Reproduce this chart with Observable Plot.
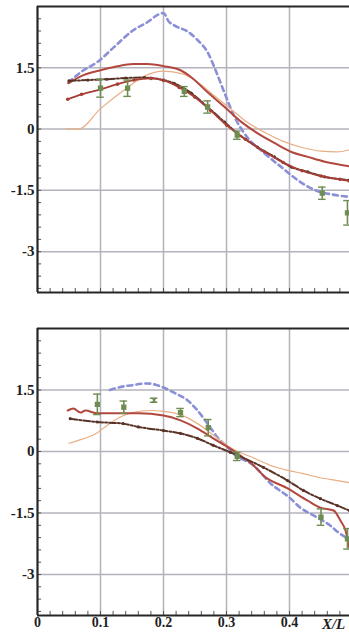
<!DOCTYPE html>
<html>
<head>
<meta charset="utf-8">
<script src="https://cdn.jsdelivr.net/npm/d3@7"></script>
<script src="https://cdn.jsdelivr.net/npm/@observablehq/plot@0.6"></script>
<style>
  html, body { margin: 0; padding: 0; background: #fff; }
  #chart svg { display: block; }
</style>
</head>
<body>
<div id="chart"></div>
<script>
// Axis ticks and labels
const xTicks = [0, 0.1, 0.2, 0.3, 0.4];
const xTickLabels = ["0", "0.1", "0.2", "0.3", "0.4"];
const xGrid = [0.1, 0.2, 0.3, 0.4];
const yTicks = [1.5, 0, -1.5, -3];
const yTickLabels = ["1.5", "0", "-1.5", "-3"];
const xAxisTitle = "X/L";

// Upper panel: [X/L, value]
const topDashed = [[0.049,1.14],[0.073,1.44],[0.095,1.64],[0.121,2.0],[0.152,2.42],[0.175,2.62],[0.19,2.79],[0.2,2.84],[0.208,2.64],[0.217,2.54],[0.24,2.37],[0.254,2.18],[0.27,1.88],[0.284,1.39],[0.297,0.88],[0.313,0.29],[0.333,-0.2],[0.36,-0.59],[0.387,-0.93],[0.413,-1.25],[0.44,-1.49],[0.471,-1.61],[0.495,-1.66]];
const topRed = [[0.049,1.12],[0.073,1.32],[0.1,1.44],[0.125,1.53],[0.152,1.59],[0.175,1.59],[0.2,1.54],[0.227,1.44],[0.244,1.27],[0.27,0.9],[0.297,0.54],[0.324,0.17],[0.349,-0.1],[0.376,-0.34],[0.403,-0.56],[0.429,-0.68],[0.456,-0.8],[0.495,-0.91]];
const topOrange = [[0.045,0],[0.065,0],[0.1,0.5],[0.143,1.02],[0.17,1.3],[0.2,1.42],[0.23,1.35],[0.254,1.15],[0.28,0.82],[0.306,0.5],[0.33,0.2],[0.36,-0.08],[0.39,-0.3],[0.42,-0.45],[0.45,-0.54],[0.475,-0.56],[0.495,-0.51]];
const topDashDot = [[0.05,1.18],[0.08,1.2],[0.11,1.22],[0.14,1.25],[0.17,1.26],[0.2,1.2],[0.217,1.12],[0.244,0.88],[0.27,0.54],[0.297,0.17],[0.317,-0.1],[0.349,-0.44],[0.376,-0.68],[0.403,-0.93],[0.429,-1.05],[0.456,-1.17],[0.495,-1.25]];
const topDotted = [[0.048,0.73],[0.07,0.85],[0.1,0.97],[0.127,1.1],[0.153,1.2],[0.18,1.24],[0.2,1.19],[0.225,1.02],[0.25,0.78],[0.275,0.45],[0.3,0.1],[0.33,-0.25],[0.36,-0.55],[0.39,-0.82],[0.42,-1.02],[0.45,-1.15],[0.48,-1.23],[0.495,-1.27]];
// Measured points: [X/L, value, error, symbol]
const topMeasured = [[0.1,1.0,0.22,"square"],[0.143,1.0,0.2,"square"],[0.233,0.92,0.12,"square"],[0.27,0.54,0.15,"square"],[0.317,-0.15,0.1,"square"],[0.452,-1.57,0.15,"square"],[0.492,-2.05,0.3,"square"]];

// Lower panel: [X/L, value]
const botDashed = [[0.115,1.5],[0.137,1.59],[0.147,1.61],[0.174,1.66],[0.2,1.56],[0.216,1.44],[0.238,1.25],[0.254,1.0],[0.27,0.68],[0.286,0.34],[0.302,0.1],[0.311,-0.05],[0.343,-0.34],[0.37,-0.78],[0.402,-1.15],[0.417,-1.37],[0.438,-1.56],[0.465,-1.81],[0.478,-1.98],[0.495,-2.15]];
const botRed = [[0.048,1.0],[0.057,1.05],[0.068,0.95],[0.076,1.0],[0.095,0.93],[0.136,0.93],[0.16,0.93],[0.2,0.88],[0.227,0.76],[0.254,0.56],[0.279,0.32],[0.306,0.07],[0.322,-0.1],[0.343,-0.34],[0.359,-0.59],[0.397,-0.9],[0.429,-1.2],[0.449,-1.37],[0.47,-1.44],[0.481,-1.69],[0.489,-1.93],[0.495,-2.35]];
const botOrange = [[0.05,0.2],[0.065,0.27],[0.095,0.46],[0.11,0.63],[0.13,0.83],[0.15,0.95],[0.18,1.0],[0.2,0.98],[0.23,0.88],[0.254,0.68],[0.28,0.39],[0.306,0.1],[0.345,-0.17],[0.37,-0.34],[0.397,-0.46],[0.422,-0.54],[0.449,-0.64],[0.476,-0.71],[0.495,-0.76]];
const botDashDot = [[0.052,0.8],[0.095,0.72],[0.136,0.68],[0.16,0.6],[0.2,0.51],[0.227,0.44],[0.254,0.32],[0.279,0.15],[0.306,-0.02],[0.359,-0.39],[0.397,-0.71],[0.422,-0.95],[0.449,-1.15],[0.476,-1.32],[0.495,-1.44]];
const botMeasured = [[0.095,1.15,0.25,"square"],[0.137,1.08,0.15,"square"],[0.185,1.25,0.05,"times"],[0.227,0.95,0.1,"square"],[0.271,0.58,0.2,"square"],[0.317,-0.12,0.1,"square"],[0.45,-1.6,0.2,"square"],[0.492,-2.13,0.25,"square"]];

const C = {
  dashed: "#8b8fd6",
  red: "#b2473d",
  orange: "#e9ae84",
  dark: "#5a3328",
  dotted: "#a63f37",
  green: "#6e8d52",
  grid: "#b3b3bb",
  frame: "#262626",
  text: "#1e1e1e"
};

const X_MAX = 312 / 630;   // plot is cut at the right edge, just short of 0.5
const Y_DOMAIN = [-4, 3];
const minorY = d3.range(-3.9, 3.0, 0.3);
const minorX = d3.range(0.02, X_MAX, 0.02);

const yLabel = new Map(yTicks.map((v, i) => [v, yTickLabels[i]]));
const xLabel = new Map(xTicks.map((v, i) => [v, xTickLabels[i]]));

function lineMarks(s) {
  const marks = [
    Plot.line(s.dashed, {x: "0", y: "1", stroke: C.dashed, strokeWidth: 2.6, strokeDasharray: "5,4", curve: "monotone-x"}),
    Plot.line(s.orange, {x: "0", y: "1", stroke: C.orange, strokeWidth: 1.2, curve: "monotone-x"}),
    Plot.line(s.red, {x: "0", y: "1", stroke: C.red, strokeWidth: 2, curve: "monotone-x"}),
    Plot.line(s.dashDot, {x: "0", y: "1", stroke: C.dark, strokeWidth: 2, strokeDasharray: "7,2,2,2", curve: "monotone-x"}),
    Plot.dot(s.dashDot, {x: "0", y: "1", r: 1.6, fill: C.dark})
  ];
  if (s.dotted) {
    marks.push(
      Plot.line(s.dotted, {x: "0", y: "1", stroke: C.dotted, strokeWidth: 1.8, curve: "monotone-x"}),
      Plot.dot(s.dotted, {x: "0", y: "1", r: 1.8, fill: C.dotted})
    );
  }
  return marks;
}

function measuredMarks(m) {
  return [
    Plot.ruleX(m, {x: "0", y1: d => d[1] - d[2], y2: d => d[1] + d[2], stroke: C.green, strokeWidth: 1.6}),
    Plot.ruleY(m, {y: d => d[1] + d[2], x1: d => d[0] - 0.006, x2: d => d[0] + 0.006, stroke: C.green, strokeWidth: 1.4}),
    Plot.ruleY(m, {y: d => d[1] - d[2], x1: d => d[0] - 0.006, x2: d => d[0] + 0.006, stroke: C.green, strokeWidth: 1.4}),
    Plot.dot(m, {x: "0", y: "1", symbol: d => d[3], r: 2.3, fill: C.green, stroke: C.green, strokeWidth: 1.2})
  ];
}

function panel({height, marginTop, marginBottom, series, measured, xAxis}) {
  const marks = [
    Plot.ruleX(xGrid, {stroke: C.grid, strokeWidth: 1.5}),
    Plot.ruleY(yTicks, {stroke: C.grid, strokeWidth: 1.5}),
    Plot.ruleY(minorY, {x1: 0, x2: 0.0065, stroke: "#555", strokeWidth: 1}),
    Plot.ruleX(minorX, {y1: Y_DOMAIN[0], y2: Y_DOMAIN[0] + 0.1, stroke: "#555", strokeWidth: 1}),
    ...lineMarks(series),
    ...measuredMarks(measured),
    Plot.ruleY([Y_DOMAIN[1]], {stroke: C.frame, strokeWidth: 2.2}),
    Plot.ruleY([Y_DOMAIN[0]], {stroke: C.frame, strokeWidth: 2.2}),
    Plot.ruleX([0], {stroke: C.frame, strokeWidth: 2.2}),
    Plot.axisY(yTicks, {anchor: "left", tickSize: 0, tickPadding: 3, label: null,
      tickFormat: d => yLabel.get(d), fontSize: 15, fontWeight: "bold", fill: C.text})
  ];
  if (xAxis) {
    marks.push(
      Plot.axisX(xTicks, {anchor: "bottom", tickSize: 0, tickPadding: 2, label: null,
        tickFormat: d => xLabel.get(d), fontSize: 14, fontWeight: "bold", fill: C.text}),
      Plot.text([xAxisTitle], {x: 0.47, y: Y_DOMAIN[0], dy: 9, text: d => d, fontSize: 15,
        fontWeight: "bold", fontStyle: "italic", fill: C.text, textAnchor: "middle"})
    );
  }
  return Plot.plot({
    width: 349, height, marginLeft: 37, marginRight: 0, marginTop, marginBottom,
    style: {background: "#fff", fontFamily: "'Liberation Serif', 'DejaVu Serif', serif", overflow: "visible"},
    x: {domain: [0, X_MAX], axis: null},
    y: {domain: Y_DOMAIN, axis: null},
    marks
  });
}

const chart = document.getElementById("chart");
chart.append(panel({
  height: 300, marginTop: 6, marginBottom: 8,
  series: {dashed: topDashed, red: topRed, orange: topOrange, dashDot: topDashDot, dotted: topDotted},
  measured: topMeasured, xAxis: false
}));
chart.append(panel({
  height: 332, marginTop: 28, marginBottom: 17,
  series: {dashed: botDashed, red: botRed, orange: botOrange, dashDot: botDashDot},
  measured: botMeasured, xAxis: true
}));
</script>
</body>
</html>
